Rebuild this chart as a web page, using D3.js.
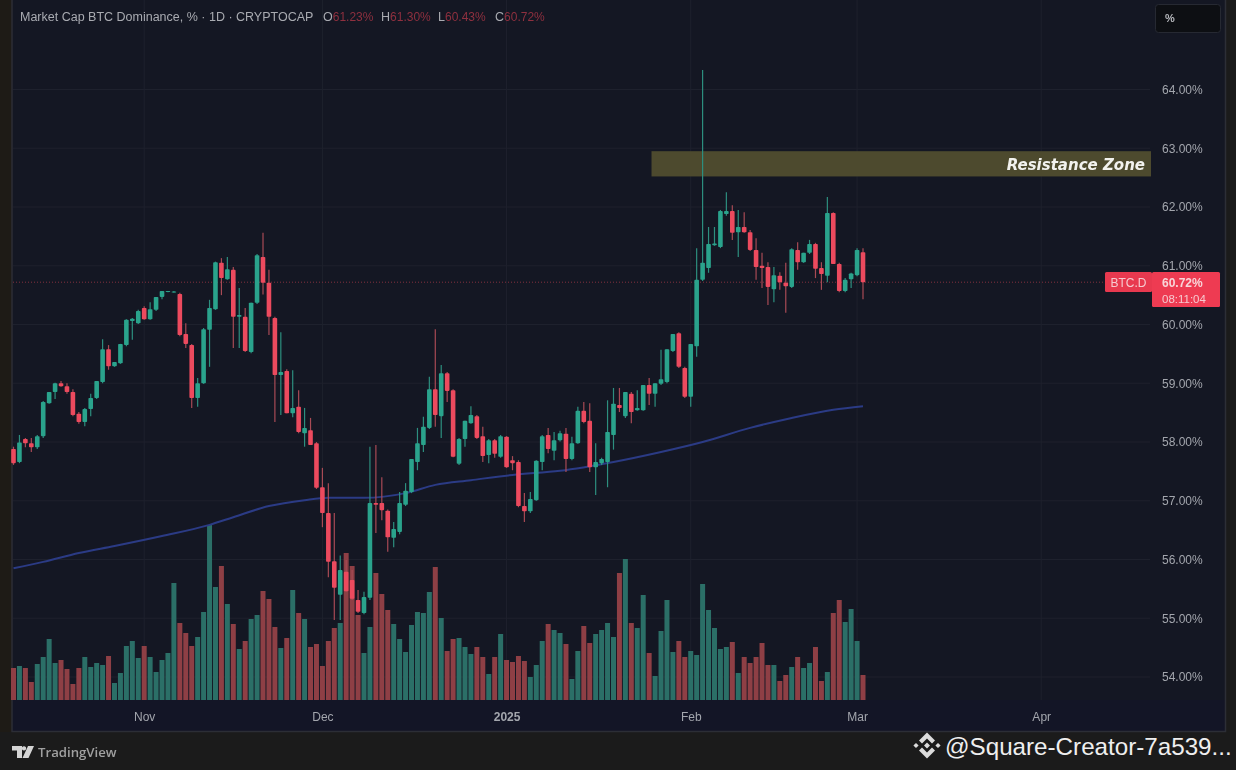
<!DOCTYPE html>
<html>
<head>
<meta charset="utf-8">
<style>
	html, body { margin: 0; padding: 0; background: #1c1c1c; overflow: hidden; }
	svg { display: block; }
	text { font-family: "Liberation Sans", sans-serif; }
	.axis path, .axis line { display: none; }
</style>
<script src="https://d3js.org/d3.v7.min.js"></script>
</head>
<body>
<svg width="1236" height="770"></svg>
<script>

// daily candles, index 0 is 10 Oct 2024 and the last one is 2 Mar 2025
var opens = [57.88,57.66,58.05,57.98,57.91,58.10,58.66,58.85,59.00,58.95,
	58.85,58.48,58.34,58.56,58.75,59.02,59.58,59.29,59.34,59.65,
	60.06,60.02,60.28,60.09,60.25,60.47,60.56,60.55,60.52,59.84,
	59.65,58.75,59.00,59.91,60.26,61.05,60.77,60.93,60.13,60.13,
	59.53,60.37,61.15,60.71,60.11,59.14,59.21,58.49,58.60,58.15,
	58.20,57.98,57.23,56.79,55.97,55.40,55.79,55.65,55.31,55.09,
	55.35,56.96,56.96,56.83,56.37,56.47,56.93,57.15,57.66,57.95,
	58.24,58.90,58.44,59.17,58.88,57.63,58.05,58.32,58.44,58.10,
	57.78,58.03,57.75,58.09,57.69,57.66,56.91,56.82,57.01,57.66,
	58.12,57.85,58.03,58.14,57.71,57.98,58.53,58.36,57.57,57.64,
	57.66,58.12,58.63,58.44,58.82,58.54,58.54,58.97,58.82,58.99,
	59.02,59.55,59.85,59.26,58.77,59.63,60.76,60.96,61.35,61.32,
	61.88,61.93,61.57,61.66,61.57,61.27,61.00,60.98,60.60,60.83,
	60.71,60.64,61.27,61.06,61.22,61.37,60.96,60.83,61.90,61.03,
	60.57,60.77,60.84,61.23];

var highs = [57.92,58.12,58.07,58.07,58.12,58.70,58.85,59.01,59.04,59.00,
	58.90,58.51,58.58,58.82,59.04,59.75,59.65,59.36,59.67,60.09,
	60.11,60.25,60.31,60.38,60.47,60.57,60.57,60.57,60.54,60.02,
	59.67,59.09,59.94,60.42,61.07,61.13,61.15,60.98,60.62,60.28,
	60.37,61.20,61.56,60.93,60.13,59.87,59.24,59.22,58.88,58.58,
	58.41,58.00,57.56,57.30,56.79,56.07,55.99,55.82,55.48,55.45,
	57.92,57.95,57.40,56.85,56.64,57.15,57.30,57.71,58.24,58.43,
	59.11,59.92,59.31,59.19,58.90,58.07,58.36,58.61,58.46,58.26,
	58.05,58.05,58.12,58.10,57.76,57.69,57.13,57.15,57.69,58.12,
	58.24,58.17,58.19,58.24,58.09,58.60,58.68,58.66,57.98,57.73,
	58.71,58.92,58.92,58.85,58.85,58.88,58.97,59.09,59.00,59.57,
	59.58,59.84,59.87,59.28,59.67,61.30,64.33,61.66,61.66,61.95,
	62.25,62.03,61.95,61.91,61.61,61.47,61.22,61.06,60.98,60.89,
	61.05,61.30,61.40,61.22,61.44,61.39,61.06,62.17,61.91,61.05,
	60.79,60.88,61.30,61.30];

var lows = [57.61,57.64,57.91,57.83,57.88,58.07,58.65,58.73,58.94,58.82,
	58.44,58.31,58.27,58.44,58.73,59.00,59.23,59.28,59.33,59.63,
	59.74,60.01,60.08,60.08,60.23,60.43,60.55,60.54,59.80,59.60,
	58.58,58.60,58.99,59.28,60.25,60.50,60.76,59.60,59.60,59.53,
	59.51,60.35,60.51,59.82,58.34,58.46,58.49,58.42,58.15,57.92,
	57.95,57.20,56.55,55.70,54.97,54.97,55.45,55.31,55.09,55.07,
	55.31,56.45,56.67,56.13,56.21,56.43,56.91,57.13,57.52,57.83,
	58.22,58.26,58.07,58.68,57.74,57.61,57.92,58.31,58.05,57.66,
	57.64,57.73,57.73,57.56,57.52,56.89,56.64,56.79,57.00,57.52,
	57.81,57.69,58.01,57.49,57.69,57.97,58.32,57.49,57.10,57.61,
	57.23,57.87,58.51,58.41,58.32,58.53,58.53,58.63,58.60,58.97,
	59.00,59.53,59.26,58.75,58.60,59.45,60.74,60.88,61.34,61.30,
	61.85,61.44,61.15,61.56,61.25,60.76,60.62,60.33,60.38,60.59,
	60.20,60.62,60.93,61.05,61.20,60.79,60.59,60.72,61.03,60.55,
	60.55,60.62,60.82,60.43];

var closes = [57.64,57.99,57.98,57.91,58.10,58.68,58.85,59.00,58.95,58.85,
	58.46,58.34,58.56,58.75,59.04,59.58,59.29,59.36,59.67,60.08,
	60.10,60.23,60.09,60.26,60.47,60.57,60.57,60.56,59.82,59.67,
	58.75,59.00,59.92,60.28,61.06,60.79,60.94,60.13,60.16,59.55,
	60.37,61.18,60.71,60.13,59.14,59.19,58.49,58.58,58.17,58.24,
	57.95,57.22,56.79,55.96,55.52,55.82,55.46,55.33,55.11,55.36,
	56.96,56.93,56.84,56.38,56.52,56.96,57.17,57.71,57.98,58.26,
	58.90,58.46,59.17,58.87,57.75,58.05,58.36,58.46,58.07,57.76,
	58.03,57.80,58.10,57.57,57.64,56.91,56.82,57.03,57.68,58.10,
	57.88,58.03,58.15,57.71,57.98,58.53,58.34,57.57,57.66,57.71,
	58.17,58.65,58.58,58.85,58.51,58.58,58.97,58.82,59.00,59.07,
	59.58,59.84,59.28,58.77,59.67,60.76,61.05,61.37,61.38,61.93,
	61.93,61.56,61.66,61.57,61.27,60.98,60.96,60.64,60.84,60.72,
	60.65,61.28,61.06,61.22,61.37,60.95,60.86,61.90,61.03,60.57,
	60.76,60.87,61.27,60.72];

var volumes = [32,34,32,18,36,43,61,37,40,31,16,32,43,33,37,35,44,17,27,54,
	59,42,54,43,28,40,47,117,77,67,54,63,88,175,113,134,96,76,51,59,
	81,85,109,101,73,52,62,110,87,81,53,56,34,59,72,77,147,134,85,47,
	73,127,106,90,76,61,48,75,88,87,108,133,82,49,61,62,53,46,53,43,
	26,43,66,40,38,44,39,23,35,59,76,70,67,56,21,49,74,57,66,70,
	77,63,127,141,77,72,105,47,24,69,100,48,59,43,49,45,116,90,72,51,
	53,58,27,43,37,43,57,35,35,19,25,33,43,32,37,53,19,28,87,100,
	78,91,59,25];

var maIndex = [0,5,11,17,25,33,37,43,49,53,59,66,71,77,84,92,101,109,116,124,131,138,143];
var maValues = [55.85,55.96,56.11,56.23,56.40,56.59,56.72,56.91,57.01,57.05,57.05,57.13,57.27,57.35,57.44,57.51,57.66,57.83,58.00,58.24,58.41,58.55,58.61];

var priceTicks = [54,55,56,57,58,59,60,61,62,63,64];
var monthIndex = [22,52,83,114,142,173];
var monthLabels = ["Nov","Dec","2025","Feb","Mar","Apr"];

var lastPrice = 60.72;
var zoneTop = 62.95, zoneBottom = 62.52, zoneStart = 107.4;

var svg = d3.select("svg");

var x = d3.scaleLinear().domain([0, 143]).range([13.5, 863]);
var y = d3.scaleLinear().domain([54, 64]).range([677, 89.5]);
var v = d3.scaleLinear().domain([0, 175]).range([700, 525]);

// the reference is a soft screenshot, everything but the watermark sits in this group
var chart = svg.append("g").style("filter", "blur(0.45px)");

// backgrounds
chart.append("rect").attr("width", 1236).attr("height", 770).attr("fill", "#1b1b1b");
chart.append("rect").attr("width", 12).attr("height", 732).attr("fill", "#1e1b16");
chart.append("rect").attr("x", 12).attr("width", 1213).attr("height", 731).attr("fill", "#141723");
chart.append("rect").attr("x", 12).attr("y", 700).attr("width", 1213).attr("height", 31).attr("fill", "#11142a").attr("fill-opacity", 0.45);
chart.append("path").attr("d", "M12,0V731.5H1225.5V0").attr("fill", "none").attr("stroke", "#2c2e36").attr("stroke-width", 1.5);

// grid
chart.append("g").selectAll("line").data(priceTicks).enter().append("line")
	.attr("x1", 13).attr("x2", 1150)
	.attr("y1", function (d) { return y(d); }).attr("y2", function (d) { return y(d); })
	.attr("stroke", "#1e212d");
chart.append("g").selectAll("line").data(monthIndex).enter().append("line")
	.attr("x1", function (d) { return x(d); }).attr("x2", function (d) { return x(d); })
	.attr("y1", 0).attr("y2", 700)
	.attr("stroke", "#1e212d");

// volume goes under the candles
chart.append("g").selectAll("rect").data(volumes).enter().append("rect")
	.attr("x", function (d, i) { return x(i) - 2.5; })
	.attr("y", function (d) { return v(d); })
	.attr("width", 5)
	.attr("height", function (d) { return 700 - v(d); })
	.attr("fill", function (d, i) { return closes[i] >= opens[i] ? "#2b6f67" : "#8e3f45"; });

// resistance zone
chart.append("rect")
	.attr("x", x(zoneStart)).attr("y", y(zoneTop))
	.attr("width", 1151 - x(zoneStart)).attr("height", y(zoneBottom) - y(zoneTop))
	.attr("fill", "#4d4a2e");
chart.append("text").attr("x", 1145).attr("y", 170).attr("text-anchor", "end")
	.style("font-family", "'DejaVu Sans'").style("font-weight", "bold").style("font-style", "italic").style("font-size", "15px")
	.attr("fill", "#f2f2ee").text("Resistance Zone");

// last price line
chart.append("line").attr("x1", 13).attr("x2", 1105)
	.attr("y1", y(lastPrice)).attr("y2", y(lastPrice))
	.attr("stroke", "#83303f").attr("stroke-dasharray", "1,2");

// moving average
var maLine = d3.line()
	.x(function (d, i) { return x(maIndex[i]); })
	.y(function (d) { return y(d); })
	.curve(d3.curveMonotoneX);
chart.append("path").datum(maValues).attr("d", maLine)
	.attr("fill", "none").attr("stroke", "#2b3b85").attr("stroke-width", 2);

// candles
var candle = chart.append("g").selectAll("g").data(closes).enter().append("g");
candle.append("line")
	.attr("x1", function (d, i) { return x(i); }).attr("x2", function (d, i) { return x(i); })
	.attr("y1", function (d, i) { return y(highs[i]); }).attr("y2", function (d, i) { return y(lows[i]); })
	.attr("stroke", function (d, i) { return closes[i] >= opens[i] ? "#2d8f7f" : "#a84a55"; })
	.attr("stroke-width", 1.2);
candle.append("rect")
	.attr("x", function (d, i) { return x(i) - 2.3; })
	.attr("width", 4.6)
	.attr("y", function (d, i) { return y(Math.max(opens[i], closes[i])); })
	.attr("height", function (d, i) { return Math.max(1, Math.abs(y(opens[i]) - y(closes[i]))); })
	.attr("rx", 0.8)
	.attr("fill", function (d, i) { return closes[i] >= opens[i] ? "#2aa38c" : "#ec4a5e"; });

// axes
var priceAxis = chart.append("g").attr("class", "axis").attr("transform", "translate(1154,0)")
	.call(d3.axisRight(y).tickValues(priceTicks).tickSize(0).tickPadding(8)
		.tickFormat(function (d) { return d.toFixed(2) + "%"; }));
priceAxis.selectAll("text").style("font-size", "12px").attr("fill", "#a3a6ad");

var timeAxis = chart.append("g").attr("class", "axis").attr("transform", "translate(0,706)")
	.call(d3.axisBottom(x).tickValues(monthIndex).tickSize(0).tickPadding(6)
		.tickFormat(function (d, i) { return monthLabels[i]; }));
timeAxis.selectAll("text").style("font-size", "12px").attr("fill", "#a3a6ad")
	.style("font-weight", function (d, i) { return monthLabels[i] == "2025" ? "bold" : "normal"; });

// header legend
var legend = chart.append("g").style("font-size", "12.5px");
legend.append("text").attr("x", 20).attr("y", 21).attr("fill", "#a9abb1").text("Market Cap BTC Dominance, % · 1D · CRYPTOCAP");
var legendKeys = ["O", "H", "L", "C"];
var legendValues = [opens[143], highs[143], lows[143], closes[143]];
var legendX = [323, 381, 438, 495];
legendKeys.forEach(function (k, i) {
	var t = legend.append("text").attr("x", legendX[i]).attr("y", 21).attr("fill", "#a9abb1").text(k);
	t.append("tspan").attr("fill", "#8f303f").style("font-size", "12px").text(legendValues[i].toFixed(2) + "%");
});

// top right unit button
chart.append("rect").attr("x", 1155.5).attr("y", 4.5).attr("width", 65).attr("height", 28).attr("rx", 3)
	.attr("fill", "#0d0f13").attr("stroke", "#262932");
chart.append("text").attr("x", 1165).attr("y", 22).style("font-size", "11px").style("font-weight", "bold")
	.attr("fill", "#b6b8bd").text("%");

// last price badges
chart.append("rect").attr("x", 1105).attr("y", 272).attr("width", 47).attr("height", 20).attr("rx", 1.5).attr("fill", "#e8394f");
chart.append("rect").attr("x", 1152).attr("y", 272).attr("width", 68).attr("height", 35).attr("rx", 1.5).attr("fill", "#ee3b52");
chart.append("text").attr("x", 1128.5).attr("y", 286.5).attr("text-anchor", "middle").style("font-size", "12px")
	.attr("fill", "#f6c9cf").text("BTC.D");
chart.append("text").attr("x", 1162).attr("y", 287).style("font-size", "12px").style("font-weight", "bold")
	.attr("fill", "#f8d5d9").text(lastPrice.toFixed(2) + "%");
chart.append("text").attr("x", 1162).attr("y", 303).style("font-size", "11.5px")
	.attr("fill", "#f6c9cf").text("08:11:04");

// footer, TradingView mark
chart.append("path")
	.attr("d", "M12,746H22V758H17V750.5H12ZM24,746.2a2.2,2.2 0 1 1 -0.01,0ZM28,746H34L28.5,758H22.5Z")
	.attr("fill", "#d4d4d4");
chart.append("text").attr("x", 38).attr("y", 757).style("font-family", "'Open Sans'").style("font-size", "13.2px")
	.style("font-weight", "600").attr("fill", "#a0a0a0").text("TradingView");

// footer, creator watermark stays crisp
var mark = svg.append("g").attr("transform", "translate(927,745.5)").attr("fill", "#dcdcdc");
mark.append("path").attr("d", "M0,-13L8,-5L5,-2L0,-7L-5,-2L-8,-5ZM0,13L8,5L5,2L0,7L-5,2L-8,5ZM0,-3L3,0L0,3L-3,0ZM-11,-2.6L-8.4,0L-11,2.6L-13.6,0ZM11,-2.6L13.6,0L11,2.6L8.4,0Z");
svg.append("text").attr("x", 945).attr("y", 755).style("font-size", "24.2px").attr("fill", "#efefef")
	.text("@Square-Creator-7a539...");

</script>
</body>
</html>
